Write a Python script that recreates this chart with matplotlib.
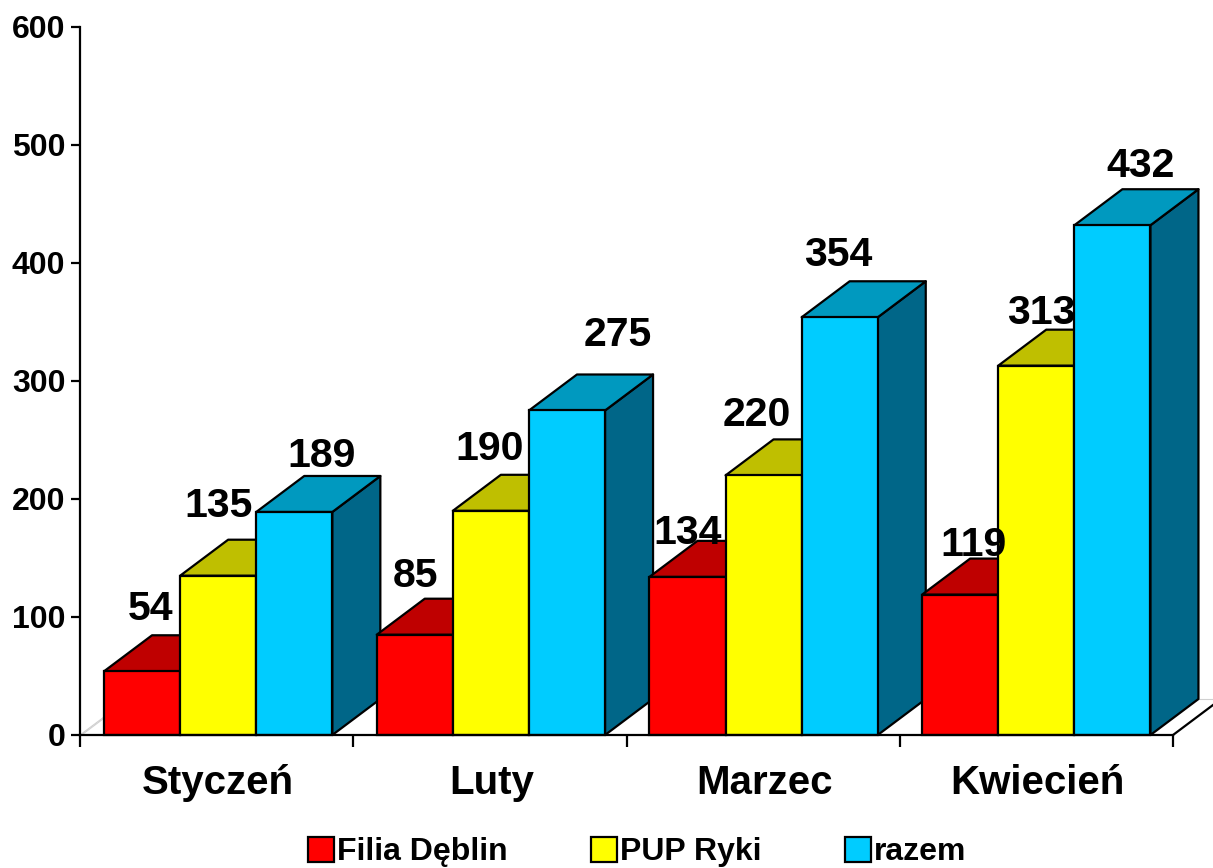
import matplotlib
matplotlib.use('Agg')
import matplotlib.pyplot as plt
from matplotlib.patches import Patch

plt.rcParams['font.family'] = ['Liberation Sans', 'DejaVu Sans']
plt.rcParams['font.weight'] = 'bold'

# dane
months = ['Styczeń', 'Luty', 'Marzec', 'Kwiecień']
series_names = ['Filia Dęblin', 'PUP Ryki', 'razem']
filia = [54, 85, 134, 119]
pup = [135, 190, 220, 313]
razem = [189, 275, 354, 432]
y_ticks = [0, 100, 200, 300, 400, 500, 600]

# kolory: przod, gora, bok
front_colors = ['#FF0000', '#FFFF00', '#00CCFF']
top_colors = ['#BF0000', '#BFBF00', '#0099BF']
side_colors = ['#800000', '#808000', '#006688']

# przesuniecia etykiet wzgledem srodka gornej krawedzi slupka (w pikselach)
label_dx = [[9, 1, 0, 13], [0, -1, -7, 5], [27, 51, -1, 28]]
label_dy = [[62, 59, 44, 50], [70, 62, 60, 53], [56, 75, 62, 59]]

W, H = 1213, 868
fig = plt.figure(figsize=(W / 100, H / 100), dpi=100)
ax = fig.add_axes([80 / W, 1 - 735 / H, (1173 - 80) / W, (735 - 27) / H])
ax.set_xlim(0, 4)
ax.set_ylim(0, 600)

group_step = 0.998
bar_start = 0.088
bar_w = 0.2785
depth_x = 48 / 273.25
depth_y = 36 / 1.18
lw = 1.6

# podloga i sciana
for shift in (0, 0.006):
    ax.plot([shift, depth_x + shift], [0, depth_y], color='#D0D0D0', lw=0.8,
            clip_on=False, zorder=1)
ax.plot([depth_x, 4 + depth_x + 0.2], [depth_y, depth_y], color='#D0D0D0', lw=0.8,
        clip_on=False, zorder=1)
ax.plot([4, 4 + depth_x], [0, depth_y], color='black', lw=lw, clip_on=False, zorder=1)

values = [filia, pup, razem]
z = 2
for g in range(len(months)):
    for s in range(len(values)):
        v = values[s][g]
        x0 = g * group_step + bar_start + s * bar_w
        x1 = x0 + bar_w
        ax.fill([x1, x1 + depth_x, x1 + depth_x, x1],
                [0, depth_y, v + depth_y, v],
                facecolor=side_colors[s], edgecolor='black', lw=lw,
                clip_on=False, zorder=z, joinstyle='round')
        ax.fill([x0, x0 + depth_x, x1 + depth_x, x1],
                [v, v + depth_y, v + depth_y, v],
                facecolor=top_colors[s], edgecolor='black', lw=lw,
                clip_on=False, zorder=z, joinstyle='round')
        ax.bar(x0, v, width=bar_w, align='edge', color=front_colors[s],
               edgecolor='black', linewidth=lw, clip_on=False, zorder=z)
        z += 0.01

# etykiety danych na wierzchu
for s in range(len(values)):
    for g in range(len(months)):
        v = values[s][g]
        xc = g * group_step + bar_start + s * bar_w + bar_w / 2
        ax.annotate(str(v), (xc, v),
                    xytext=(label_dx[s][g] * 0.72, label_dy[s][g] * 0.72),
                    textcoords='offset points', ha='center', va='center',
                    fontsize=29.5, fontweight='bold', color='black', zorder=10)

# osie
ax.spines['top'].set_visible(False)
ax.spines['right'].set_visible(False)
ax.spines['left'].set_linewidth(lw)
ax.spines['bottom'].set_linewidth(lw)
ax.spines['left'].set_zorder(9)
ax.spines['bottom'].set_zorder(9)
ax.set_yticks(y_ticks)
ax.tick_params(axis='y', length=6.5, width=lw, labelsize=23, pad=4)
ax.set_xticks(range(len(months) + 1))
ax.set_xticklabels([])
ax.tick_params(axis='x', which='major', length=8.6, width=lw)
ax.set_xticks([g + 0.505 for g in range(len(months))], minor=True)
ax.set_xticklabels(months, minor=True)
ax.tick_params(axis='x', which='minor', length=0, labelsize=29, pad=21)

handles = [Patch(facecolor=c, edgecolor='black', linewidth=lw) for c in front_colors]
fig.legend(handles, series_names, ncol=3, frameon=False, fontsize=23,
           loc='center', bbox_to_anchor=(637 / W, 1 - 852 / H),
           handlelength=0.82, handleheight=0.82, handletextpad=0.1,
           columnspacing=2.6, borderpad=0, borderaxespad=0)

fig.savefig('out.png', dpi=100)
